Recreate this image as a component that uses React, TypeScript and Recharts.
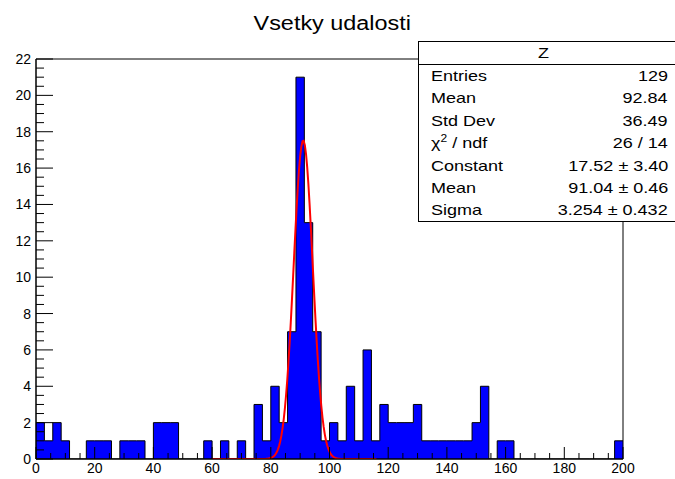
import { ComposedChart, Area, Line, XAxis, YAxis, ReferenceArea } from "recharts";

// Z histogram: 70 bins between 0 and 200
const binCounts = [
  2, 1, 2, 1, 0, 0, 1, 1, 1, 0,
  1, 1, 1, 0, 2, 2, 2, 0, 0, 0,
  1, 0, 1, 0, 1, 0, 3, 1, 4, 2,
  7, 21, 13, 7, 1, 2, 1, 4, 1, 6,
  1, 3, 2, 2, 2, 3, 1, 1, 1, 1,
  1, 1, 2, 4, 0, 1, 1, 0, 0, 0,
  0, 0, 0, 0, 0, 0, 0, 0, 0, 1,
];
const xMin = 0;
const xMax = 200;

// gaus fit result
const fitConstant = 17.52;
const fitMean = 91.04;
const fitSigma = 3.254;
const fitRange = [60, 116];

const xLabels = [0, 20, 40, 60, 80, 100, 120, 140, 160, 180, 200];
const yLabels = [0, 2, 4, 6, 8, 10, 12, 14, 16, 18, 20, 22];

const statRows: [React.ReactNode, string][] = [
  ["Entries", "129"],
  ["Mean", "92.84"],
  ["Std Dev", "36.49"],
  [
    <span>
      χ<sup style={{ fontSize: 10, lineHeight: 0, verticalAlign: 0, position: "relative", top: -6 }}>2</sup> / ndf
    </span>,
    "26 / 14",
  ],
  ["Constant", `${fitConstant.toFixed(2)} ± 3.40`],
  ["Mean", `${fitMean.toFixed(2)} ± 0.46`],
  ["Sigma", `${fitSigma.toFixed(3)} ± 0.432`],
];

const binWidth = (xMax - xMin) / binCounts.length;
const histData = [...binCounts, binCounts[binCounts.length - 1]].map((c, i) => ({
  x: xMin + i * binWidth,
  count: c,
}));

const fitData: { x: number; fit: number }[] = [];
for (let x = fitRange[0]; x <= fitRange[1] + 1e-9; x += 0.4) {
  const z = (x - fitMean) / fitSigma;
  fitData.push({ x, fit: fitConstant * Math.exp(-0.5 * z * z) });
}

const xTicks: number[] = [];
for (let v = xMin; v <= xMax; v += 5) xTicks.push(v);
const yTicks: number[] = [];
for (let v = 0; v <= 22; v += 0.5) yTicks.push(v);

const FONT = '"Liberation Sans", Arial, Helvetica, sans-serif';

const XTick = (props: any) => {
  const { x, y, payload } = props;
  const major = xLabels.includes(payload.value);
  return (
    <g>
      <line x1={x} x2={x} y1={y} y2={y - (major ? 12 : 6)} stroke="#000" />
      {major && (
        <text x={x} y={y + 14} textAnchor="middle" fontSize={14} fontFamily={FONT} fill="#000">
          {payload.value}
        </text>
      )}
    </g>
  );
};

const YTick = (props: any) => {
  const { x, y, payload } = props;
  const major = yLabels.includes(payload.value);
  return (
    <g>
      <line x1={x} x2={x + (major ? 17 : 8)} y1={y} y2={y} stroke="#000" />
      {major && (
        <text x={x - 5} y={y + 5} textAnchor="end" fontSize={14} fontFamily={FONT} fill="#000">
          {payload.value}
        </text>
      )}
    </g>
  );
};

const stretch = (origin: string, k = 1.2) => ({
  display: "inline-block",
  transform: `scaleX(${k})`,
  transformOrigin: origin,
  whiteSpace: "nowrap" as const,
});

export default function App() {
  return (
    <div
      style={{
        position: "fixed",
        left: 0,
        top: 0,
        width: 675,
        height: 479,
        background: "#fff",
        fontFamily: FONT,
      }}
    >
      <div
        style={{
          position: "absolute",
          left: 0,
          width: 665,
          top: 10,
          textAlign: "center",
          fontSize: 20,
          lineHeight: "26px",
          color: "#000",
        }}
      >
        <span style={stretch("center", 1.17)}>Vsetky udalosti</span>
      </div>
      <ComposedChart width={675} height={479} margin={{ top: 59, right: 52, bottom: 0, left: 0 }}>
        <Area
          data={histData}
          dataKey="count"
          type="stepAfter"
          fill="#0000ff"
          fillOpacity={1}
          stroke="#000"
          strokeWidth={1}
          isAnimationActive={false}
        />
        <Line
          data={fitData}
          dataKey="fit"
          type="linear"
          stroke="#ff0000"
          strokeWidth={2}
          dot={false}
          isAnimationActive={false}
        />
        <ReferenceArea x1={xMin} x2={xMax} y1={0} y2={22} fill="none" stroke="#000" strokeWidth={1} />
        <XAxis
          type="number"
          dataKey="x"
          domain={[xMin, xMax]}
          ticks={xTicks}
          interval={0}
          tickSize={0}
          tickMargin={0}
          tickLine={false}
          axisLine={{ stroke: "#000" }}
          height={20}
          tick={<XTick />}
          allowDataOverflow
        />
        <YAxis
          type="number"
          domain={[0, 22]}
          ticks={yTicks}
          interval={0}
          tickSize={0}
          tickMargin={0}
          tickLine={false}
          axisLine={{ stroke: "#000" }}
          width={36}
          tick={<YTick />}
          allowDataOverflow
        />
      </ComposedChart>
      <div
        style={{
          position: "absolute",
          left: 418,
          top: 41,
          width: 257,
          height: 181,
          background: "#fff",
          border: "1px solid #000",
          borderRight: "none",
          boxSizing: "border-box",
          fontSize: 15,
          color: "#000",
        }}
      >
        <div
          style={{
            height: 22,
            lineHeight: "22px",
            textAlign: "center",
            borderBottom: "1px solid #000",
            paddingRight: 6,
          }}
        >
          <span style={stretch("center")}>Z</span>
        </div>
        {statRows.map(([name, value], i) => (
          <div
            key={i}
            style={{
              display: "flex",
              justifyContent: "space-between",
              height: 22.4,
              lineHeight: "22.4px",
              paddingLeft: 12,
              paddingRight: 7,
            }}
          >
            <span style={stretch("left")}>{name}</span>
            <span style={stretch("right")}>{value}</span>
          </div>
        ))}
      </div>
    </div>
  );
}
